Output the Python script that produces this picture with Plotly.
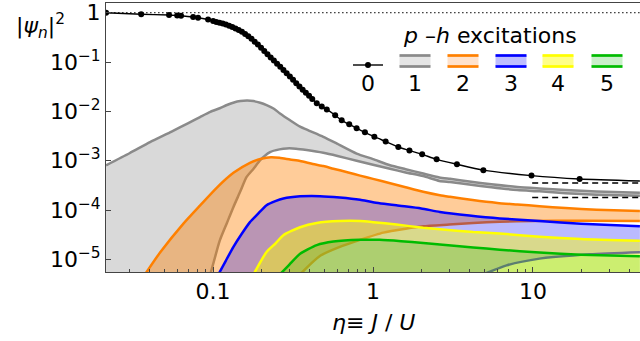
import plotly.graph_objects as go

# ---------------- data ----------------
# 0 p-h excitations: |psi_0|^2 (dots = computed points; last value = end of the line)
eta0 = [0.0214, 0.0355, 0.053, 0.0596, 0.063, 0.075, 0.0805, 0.093,
        0.1, 0.1047, 0.1096, 0.1148, 0.1202, 0.1259, 0.1318, 0.138, 0.1445, 0.1514,
        0.1585, 0.166, 0.1738, 0.182, 0.1905, 0.1995, 0.2089, 0.2188, 0.2291, 0.2399,
        0.2512, 0.263, 0.2754, 0.2884, 0.302, 0.3162, 0.3311, 0.3467, 0.3631, 0.3802,
        0.3981, 0.4169,
        0.445, 0.478, 0.514, 0.58, 0.637, 0.71, 0.79, 0.89, 1.02, 1.2, 1.44, 1.69,
        2.03, 2.5, 3.35, 4.9, 9.8, 19.6, 46.7]
psi0 = [1.0, 0.93, 0.90, 0.88, 0.87, 0.82, 0.79, 0.73,
        0.682, 0.651, 0.627, 0.605, 0.580, 0.547, 0.516, 0.481, 0.445, 0.410,
        0.370, 0.333, 0.296, 0.258, 0.226, 0.195, 0.167, 0.144, 0.124, 0.108,
        0.0929, 0.0801, 0.0692, 0.0593, 0.0509, 0.0436, 0.0372, 0.0319, 0.0275, 0.0239,
        0.0207, 0.0179,
        0.0146, 0.01264, 0.01096, 0.00836, 0.0066, 0.00548, 0.00455, 0.00378, 0.00307,
        0.00245, 0.0019, 0.00162, 0.00135, 0.00107, 0.00085, 0.000646, 0.0005,
        0.000427, 0.000389]

# 1 p-h: upper / lower bound
eta1u = [0.0214, 0.03, 0.0403, 0.055, 0.07, 0.0828, 0.096, 0.11, 0.122, 0.135, 0.148,
         0.163, 0.179, 0.197, 0.216, 0.24, 0.262, 0.303, 0.35, 0.4, 0.489, 0.6, 0.79,
         1.0, 1.277, 1.6, 2.06, 2.6, 3.03, 4.0, 5.5, 8.0, 11.0, 16.0, 25.0, 46.7]
ph1u = [8.1e-4, 1.42e-3, 2.38e-3, 3.9e-3, 5.8e-3, 7.7e-3, 9.8e-3, 1.16e-2, 1.35e-2,
        1.52e-2, 1.62e-2, 1.66e-2, 1.62e-2, 1.50e-2, 1.34e-2, 1.13e-2, 9.1e-3, 6.6e-3,
        4.9e-3, 4.05e-3, 3.05e-3, 2.2e-3, 1.4e-3, 1.08e-3, 8.1e-4, 6.75e-4, 5.5e-4,
        4.6e-4, 4.3e-4, 3.8e-4, 3.35e-4, 2.95e-4, 2.75e-4, 2.55e-4, 2.38e-4, 2.24e-4]
eta1l = [0.0214, 0.085, 0.096, 0.11, 0.122, 0.134, 0.148, 0.162, 0.179, 0.197, 0.227,
         0.26, 0.289, 0.33, 0.385, 0.489, 0.6, 0.79, 1.0, 1.277, 1.6, 2.06, 2.6, 3.03,
         4.0, 5.5, 8.0, 11.0, 16.0, 25.0, 46.7]
ph1l = [1e-9, 1.5e-6, 5.0e-6, 2.4e-5, 5.5e-5, 1.16e-4, 2.4e-4, 4.7e-4, 6.9e-4, 1.03e-3,
        1.5e-3, 1.7e-3, 1.78e-3, 1.76e-3, 1.65e-3, 1.45e-3, 1.25e-3, 1.0e-3, 8.3e-4,
        6.9e-4, 5.8e-4, 4.9e-4, 3.9e-4, 3.7e-4, 3.3e-4, 2.9e-4, 2.55e-4, 2.4e-4,
        2.2e-4, 2.05e-4, 1.95e-4]

# 2 p-h
eta2u = [0.0375, 0.0467, 0.0654, 0.083, 0.106, 0.134, 0.17, 0.2, 0.23, 0.26, 0.303,
         0.35, 0.42, 0.49, 0.565, 0.7, 0.83, 1.0, 1.28, 1.6, 2.06, 2.62, 3.03, 4.2,
         6.0, 8.0, 11.0, 16.0, 25.0, 46.7]
ph2u = [5.0e-6, 1.4e-5, 5.4e-5, 1.25e-4, 2.9e-4, 5.7e-4, 9.1e-4, 1.1e-3, 1.18e-3,
        1.15e-3, 1.06e-3, 9.9e-4, 8.6e-4, 7.8e-4, 6.9e-4, 5.8e-4, 5.0e-4, 4.3e-4,
        3.5e-4, 2.9e-4, 2.35e-4, 2.0e-4, 1.86e-4, 1.6e-4, 1.4e-4, 1.3e-4, 1.2e-4,
        1.1e-4, 1.02e-4, 9.6e-5]
eta2l = [0.0214, 0.25, 0.35, 0.47, 0.62, 0.83, 1.16, 1.6, 2.06, 3.0, 4.23, 6.2, 10.0,
         20.0, 46.7]
ph2l = [1e-12, 1.5e-6, 5.0e-6, 1.2e-5, 1.8e-5, 2.5e-5, 3.5e-5, 4.2e-5, 4.7e-5, 5.1e-5,
        5.5e-5, 5.8e-5, 6.0e-5, 6.1e-5, 6.0e-5]

# 3 p-h
eta3u = [0.108, 0.12, 0.134, 0.15, 0.17, 0.19, 0.216, 0.245, 0.275, 0.35, 0.466, 0.62,
         0.83, 1.0, 1.4, 2.0, 2.62, 4.0, 6.2, 11.0, 20.0, 46.7]
ph3u = [5.0e-6, 9.4e-6, 1.8e-5, 3.2e-5, 5.7e-5, 8.3e-5, 1.26e-4, 1.52e-4, 1.72e-4,
        1.9e-4, 1.92e-4, 1.8e-4, 1.62e-4, 1.45e-4, 1.25e-4, 1.08e-4, 9.2e-5, 7.8e-5,
        6.8e-5, 6.0e-5, 5.3e-5, 4.7e-5]
eta3l = [4.89, 6.85, 11.0, 22.7, 46.7]
ph3l = [5.0e-6, 7.6e-6, 1.04e-5, 1.27e-5, 1.4e-5]

# 4 p-h (lower bound lies below the plotted range)
eta4u = [0.179, 0.216, 0.245, 0.275, 0.35, 0.445, 0.62, 0.83, 1.0, 1.4, 2.06, 2.62,
         4.23, 6.2, 11.0, 20.0, 46.7]
ph4u = [5.0e-6, 1.42e-5, 2.1e-5, 3.1e-5, 4.5e-5, 5.5e-5, 6.0e-5, 6.0e-5, 5.7e-5,
        5.1e-5, 4.4e-5, 4.1e-5, 3.6e-5, 3.35e-5, 2.9e-5, 2.6e-5, 2.4e-5]

# 5 p-h (lower bound lies below the plotted range)
eta5u = [0.262, 0.3, 0.35, 0.445, 0.565, 0.83, 1.1, 1.5, 2.06, 2.62, 4.23, 6.2, 11.0,
         20.0, 46.7]
ph5u = [5.0e-6, 7.9e-6, 1.3e-5, 1.95e-5, 2.3e-5, 2.5e-5, 2.5e-5, 2.35e-5, 2.16e-5,
        2.0e-5, 1.75e-5, 1.58e-5, 1.38e-5, 1.25e-5, 1.16e-5]

# large-eta asymptotes (dashed)
eta_asym = [9.9, 46.7]
asym0 = [3.56e-4, 3.56e-4]
asym1 = [1.8e-4, 1.8e-4]

# y = 1 reference (dotted)
eta_ref = [0.0214, 46.7]
ref_one = [1.0, 1.0]

legend_labels = ["0", "1", "2", "3", "4", "5"]
xtick_vals = [0.1, 1, 10]
xtick_text = ["0.1", "1", "10"]
xminor_vals = [0.03, 0.04, 0.05, 0.06, 0.07, 0.08, 0.09,
               0.2, 0.3, 0.4, 0.5, 0.6, 0.7, 0.8, 0.9,
               2, 3, 4, 5, 6, 7, 8, 9, 20, 30, 40]
ytick_vals = [1e-5, 1e-4, 1e-3, 1e-2, 1e-1, 1]
ytick_text = ["10<sup>−5</sup>", "10<sup>−4</sup>", "10<sup>−3</sup>",
              "10<sup>−2</sup>", "10<sup>−1</sup>", "1"]

# ---------------- styling ----------------
FONT = "DejaVu Sans, Liberation Sans, Arial, sans-serif"
FS = 22
W, H = 640, 341
ML, MR, MT, MB = 106, 0, 3, 69
PW, PH = W - ML - MR, H - MT - MB

LINE_W = 2.5
SPL = dict(shape="spline", smoothing=0.6)

bands = [
    # (eta_u, y_u, eta_l, y_l, line colour, fill colour)
    (eta1u, ph1u, eta1l, ph1l, "#8a8a8a", "rgba(128,128,128,0.30)"),
    (eta2u, ph2u, eta2l, ph2l, "#ff8000", "rgba(255,128,0,0.40)"),
    (eta3u, ph3u, eta3l, ph3l, "#0000ff", "rgba(0,0,255,0.27)"),
    (eta4u, ph4u, None, None, "#ffff00", "rgba(255,255,0,0.45)"),
    (eta5u, ph5u, None, None, "#00bb00", "rgba(0,170,0,0.20)"),
]
legend_fill = ["#e5e5e5", "#ffe2cc", "#bebeff", "#ffff88", "#c9efc9"]

fig = go.Figure()

fig.add_trace(go.Scatter(x=eta_ref, y=ref_one, mode="lines",
                         line=dict(color="black", width=1, dash="1.5px,2.5px")))

for eu, yu, el, yl, lc, fc in bands:
    if el is not None:
        fig.add_trace(go.Scatter(x=el, y=yl, mode="lines",
                                 line=dict(color=lc, width=LINE_W, **SPL)))
        fig.add_trace(go.Scatter(x=eu, y=yu, mode="lines", fill="tonexty", fillcolor=fc,
                                 line=dict(color=lc, width=LINE_W, **SPL)))
    else:
        fig.add_trace(go.Scatter(x=eu, y=yu, mode="lines", fill="tozeroy", fillcolor=fc,
                                 line=dict(color=lc, width=LINE_W, **SPL)))

for ya in (asym0, asym1):
    fig.add_trace(go.Scatter(x=eta_asym, y=ya, mode="lines",
                             line=dict(color="black", width=1.5, dash="6px,4px")))

fig.add_trace(go.Scatter(x=eta0, y=psi0, mode="lines",
                         line=dict(color="black", width=1.4, **SPL)))
fig.add_trace(go.Scatter(x=eta0[:-1], y=psi0[:-1], mode="markers",
                         marker=dict(color="black", size=6)))

fig.update_layout(
    width=W, height=H,
    margin=dict(l=ML, r=MR, t=MT, b=MB, autoexpand=False),
    paper_bgcolor="white", plot_bgcolor="white",
    showlegend=False, hovermode=False,
    font=dict(family=FONT, size=FS, color="black"),
)
fig.update_xaxes(
    type="log", range=[-1.67, 1.67], automargin=False,
    showgrid=False, zeroline=False,
    showline=True, linecolor="#444", linewidth=1, mirror=True,
    ticks="inside", ticklen=5, tickcolor="#444",
    tickmode="array", tickvals=xtick_vals, ticktext=xtick_text,
    minor=dict(ticks="inside", ticklen=3, tickcolor="#444", tickmode="array",
               tickvals=xminor_vals, showgrid=False),
    tickfont=dict(family=FONT, size=FS),
)
fig.update_yaxes(
    type="log", range=[-5.254, 0.197], automargin=False,
    showgrid=False, zeroline=False,
    showline=True, linecolor="#444", linewidth=1,
    ticks="inside", ticklen=5, tickcolor="#444",
    tickmode="array", tickvals=ytick_vals, ticktext=ytick_text,
    tickfont=dict(family=FONT, size=FS),
)


def fx(px):
    return (px - ML) / PW


def fy(py):
    return (H - MB - py) / PH


shapes = []
annotations = []

# axis titles
annotations.append(dict(text="|<i>ψ</i><sub><i>n</i></sub>|<sup>2</sup>",
                        x=fx(40), y=fy(26), xref="paper", yref="paper",
                        showarrow=False, xanchor="center", yanchor="middle",
                        font=dict(family=FONT, size=FS)))
annotations.append(dict(text="<i>η</i>≡ <i>J</i> / <i>U</i>",
                        x=fx(373), y=fy(322), xref="paper", yref="paper",
                        showarrow=False, xanchor="center", yanchor="middle",
                        font=dict(family=FONT, size=FS)))

# legend
annotations.append(dict(text="<i>p</i> –<i>h</i> excitations",
                        x=fx(490), y=fy(36), xref="paper", yref="paper",
                        showarrow=False, xanchor="center", yanchor="middle",
                        font=dict(family=FONT, size=FS)))
centers = [368, 415, 463, 511, 558, 607]
for i, (cx, lab) in enumerate(zip(centers, legend_labels)):
    annotations.append(dict(text=lab, x=fx(cx), y=fy(83.5), xref="paper", yref="paper",
                            showarrow=False, xanchor="center", yanchor="middle",
                            font=dict(family=FONT, size=FS)))
    if i == 0:
        shapes.append(dict(type="line", xref="paper", yref="paper",
                           x0=fx(cx - 15), x1=fx(cx + 15), y0=fy(65), y1=fy(65),
                           line=dict(color="black", width=1.4)))
        shapes.append(dict(type="circle", xref="paper", yref="paper",
                           x0=fx(cx - 3), x1=fx(cx + 3), y0=fy(68), y1=fy(62),
                           fillcolor="black", line=dict(width=0)))
    else:
        lc = bands[i - 1][4]
        shapes.append(dict(type="rect", xref="paper", yref="paper",
                           x0=fx(cx - 15.5), x1=fx(cx + 15.5), y0=fy(66.5), y1=fy(55.5),
                           fillcolor=legend_fill[i - 1], line=dict(width=0)))
        for yy in (55.5, 66.5):
            shapes.append(dict(type="line", xref="paper", yref="paper",
                               x0=fx(cx - 15.5), x1=fx(cx + 15.5), y0=fy(yy), y1=fy(yy),
                               line=dict(color=lc, width=2.7)))

fig.update_layout(shapes=shapes, annotations=annotations)

fig.write_html("out.html",
               config={"displayModeBar": False, "staticPlot": True},
               post_script="document.body.style.margin='0';"
                           "document.body.style.overflow='hidden';")
